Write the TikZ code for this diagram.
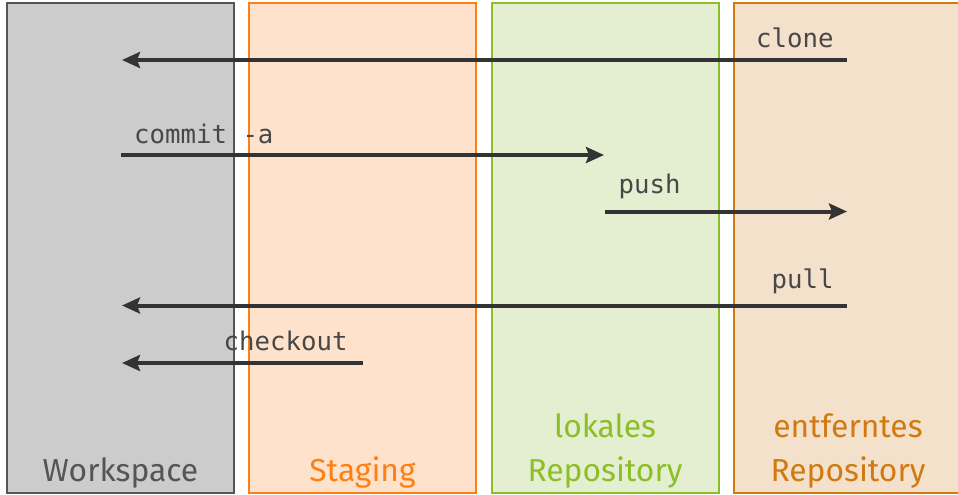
\documentclass[tikz,border=0pt]{standalone}
\usepackage{fontspec}
\setmainfont{Fira Sans}
\newfontfamily\codefont{DejaVu Sans Mono}
\usetikzlibrary{arrows.meta}
\definecolor{wsfill}{HTML}{CCCCCC}
\definecolor{wsline}{HTML}{555555}
\definecolor{stfill}{HTML}{FFE2CC}
\definecolor{stline}{HTML}{FF8012}
\definecolor{lofill}{HTML}{E4EFD2}
\definecolor{loline}{HTML}{8CBF26}
\definecolor{refill}{HTML}{F3E1CC}
\definecolor{reline}{HTML}{D27A12}
\definecolor{arrowc}{HTML}{333333}
\tikzset{
  lane/.style={draw, line width=2pt, inner sep=0pt, outer sep=0pt},
  lanelabel/.style={anchor=base, inner sep=0pt, font=\fontsize{31.8}{44}\selectfont, align=center},
  cmd/.style={anchor=base west, inner sep=0pt, text=arrowc!90!white, font=\codefont\fontsize{25.7}{30}\selectfont},
  flow/.style={draw=arrowc, line width=4pt, -{Stealth[length=18pt,width=16pt,inset=3pt]}},
}
\begin{document}
\begin{tikzpicture}[x=1pt,y=-1pt]
\useasboundingbox (0,0) rectangle (958,495);
% lanes
\draw[lane, draw=wsline, fill=wsfill] (7,3.5) rectangle (234.3,493.3);
\draw[lane, draw=stline, fill=stfill] (249,3.5) rectangle (476,493.3);
\draw[lane, draw=loline, fill=lofill] (491.7,3.5) rectangle (718.7,493.3);
\draw[lane, draw=reline, fill=refill] (733.5,3.5) rectangle (965,493.3);
% lane labels
\node[lanelabel, text=wsline] (ws) at (120.5,481) {Workspace};
\node[lanelabel, text=stline] (st) at (362.5,481) {Staging};
\node[lanelabel, text=loline] (lo1) at (605,437) {lokales};
\node[lanelabel, text=loline] (lo2) at (605,481) {Repository};
\node[lanelabel, text=reline] (re1) at (848,437) {entferntes};
\node[lanelabel, text=reline] (re2) at (848,481) {Repository};
% arrow endpoints
\coordinate (cloneS) at (847,60);
\coordinate (cloneE) at (122,60);
\coordinate (commitS) at (121,155);
\coordinate (commitE) at (604,155);
\coordinate (pushS) at (605,211.5);
\coordinate (pushE) at (847,211.5);
\coordinate (pullS) at (847,305.5);
\coordinate (pullE) at (122,305.5);
\coordinate (coS) at (362.5,363);
\coordinate (coE) at (122,363);
% arrows
\draw[flow] (cloneS) -- (cloneE);
\draw[flow] (commitS) -- (commitE);
\draw[flow] (pushS) -- (pushE);
\draw[flow] (pullS) -- (pullE);
\draw[flow] (coS) -- (coE);
% command labels
\node[cmd] (lclone) at (756,48) {clone};
\node[cmd] (lcommit) at (134,143) {commit -a};
\node[cmd] (lpush) at (618.5,193) {push};
\node[cmd] (lpull) at (771.5,288.5) {pull};
\node[cmd] (lco) at (223.5,350) {checkout};
\end{tikzpicture}
\end{document}
